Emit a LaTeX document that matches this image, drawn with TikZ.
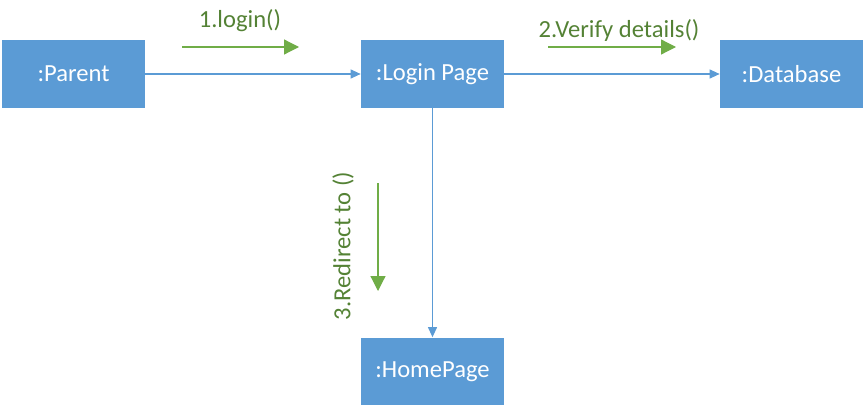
\documentclass[tikz,border=0pt]{standalone}
\usepackage{fontspec}
\setmainfont{Carlito}
\usetikzlibrary{positioning, calc, arrows.meta}
\definecolor{boxblue}{HTML}{5B9BD5}
\definecolor{linkblue}{HTML}{5B9BD5}
\definecolor{msggreen}{HTML}{70AD47}
\definecolor{msgtext}{HTML}{548235}

\begin{document}
\begin{tikzpicture}[x=0.02cm, y=-0.02cm]

\tikzset{
object/.style = {rectangle, fill = boxblue, text = white, minimum width = 2.86cm,
	minimum height = 1.36cm, inner sep = 2pt, font = \fontsize{14}{16}\selectfont},
link/.style = {-{Triangle[length = 2mm, width = 1.8mm]}, color = linkblue, line width = 0.6pt},
message/.style = {-{Triangle[length = 3mm, width = 3mm]}, color = msggreen, line width = 0.7pt},
msglabel/.style = {text = msgtext, font = \fontsize{14}{16}\selectfont, inner sep = 0pt},
	}

\useasboundingbox (0,0) rectangle (865,409);

%% Objects
\node at (73.5, 74) [object] (parent) {:Parent};
\node at (432.5, 74) [object] (login) {:Login Page};
\node at (791.5, 74) [object] (database) {:Database};
\node at (432.5, 371.5) [object] (home) {:HomePage};

% The links
\path [link] (parent) edge [] (login);
\path [link] (login) edge [] (database);
\path [link] (login) edge [] (home);

%% Messages
\coordinate (m1s) at (182, 47);
\coordinate (m1e) at (299, 47);
\coordinate (m2s) at (548, 47);
\coordinate (m2e) at (676, 47);
\coordinate (m3s) at (378, 183);
\coordinate (m3e) at (378, 291);

\draw [message] (m1s) -- (m1e);
\draw [message] (m2s) -- (m2e);
\draw [message] (m3s) -- (m3e);

\node at (240, 21) [msglabel] (m1) {1.login()};
\node at (619, 30) [msglabel] (m2) {2.Verify details()};
\node at (343, 246) [msglabel, rotate = 90] (m3) {3.Redirect to ()};

\end{tikzpicture}
\end{document}
